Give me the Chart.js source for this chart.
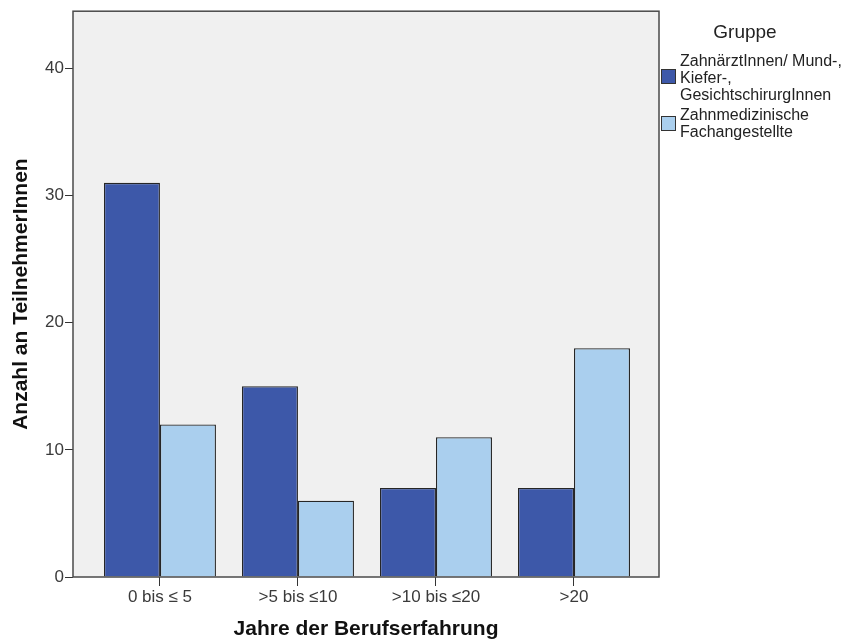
<!DOCTYPE html>
<html>
<head>
<meta charset="utf-8">
<script src="https://cdn.jsdelivr.net/npm/chart.js@4.4.1/dist/chart.umd.min.js"></script>
<style>
  html, body { margin: 0; padding: 0; background: #ffffff; }
  #wrap { width: 853px; height: 642px; }
</style>
</head>
<body>
<div id="wrap"><canvas id="c" width="853" height="642"></canvas></div>
<script>
// ---- data ----
const categories = ["0 bis \u2264 5", ">5 bis \u226410", ">10 bis \u226420", ">20"];
const seriesNames = [["ZahnärztInnen/ Mund-,", "Kiefer-,", "GesichtschirurgInnen"], ["Zahnmedizinische", "Fachangestellte"]];
const zahnaerzte = [31, 15, 7, 7];
const fachangestellte = [12, 6, 11, 18];
const yTicks = [0, 10, 20, 30, 40];
const legendTitle = "Gruppe";
const xTitle = "Jahre der Berufserfahrung";
const yTitle = "Anzahl an TeilnehmerInnen";

const colors = ["#3d58a9", "#aacfee"];
const FONT = "'Liberation Sans', Arial, sans-serif";

const toPoints = arr => arr.map((v, i) => ({ x: i + 1, y: v }));

const framePlugin = {
  id: 'frame',
  beforeDatasetsDraw(chart) {
    const { ctx, chartArea: a } = chart;
    ctx.save();
    ctx.fillStyle = '#f0f0f0';
    ctx.fillRect(a.left, a.top, a.right - a.left, a.bottom - a.top);
    ctx.restore();
  },
  afterDatasetsDraw(chart) {
    const { ctx, chartArea: a } = chart;
    ctx.save();
    ctx.strokeStyle = '#4a4a4a';
    ctx.lineWidth = 1.5;
    ctx.strokeRect(a.left, a.top, a.right - a.left, a.bottom - a.top);
    ctx.restore();
  },
  afterDraw(chart) {
    const { ctx } = chart;
    ctx.save();
    ctx.fillStyle = '#222';
    ctx.textBaseline = 'middle';
    ctx.textAlign = 'center';
    ctx.font = "19px " + FONT;
    ctx.fillText(legendTitle, 745, 33);
    ctx.textAlign = 'left';
    ctx.font = "16px " + FONT;
    const boxes = [{ y: 69, lines: [62, 79, 96] }, { y: 116, lines: [116, 133] }];
    boxes.forEach((b, i) => {
      ctx.fillStyle = colors[i];
      ctx.fillRect(661, b.y, 15, 15);
      ctx.strokeStyle = '#333';
      ctx.lineWidth = 1;
      ctx.strokeRect(661.5, b.y + 0.5, 14, 14);
      ctx.fillStyle = '#222';
      seriesNames[i].forEach((t, j) => ctx.fillText(t, 680, b.lines[j]));
    });
    ctx.restore();
  }
};

new Chart(document.getElementById('c'), {
  type: 'bar',
  data: {
    datasets: [
      { label: seriesNames[0].join(' '), data: toPoints(zahnaerzte), backgroundColor: colors[0], borderColor: '#262626', borderWidth: 1.3 },
      { label: seriesNames[1].join(' '), data: toPoints(fachangestellte), backgroundColor: colors[1], borderColor: '#262626', borderWidth: 1.3 }
    ]
  },
  options: {
    responsive: false,
    devicePixelRatio: 1,
    animation: false,
    categoryPercentage: 0.8116,
    barPercentage: 1,
    layout: { padding: { top: 11, right: 194, bottom: 0, left: 0 } },
    plugins: { legend: { display: false }, tooltip: { enabled: false } },
    scales: {
      x: {
        type: 'linear',
        offset: false,
        min: 0.37,
        max: 4.616,
        afterFit: s => { s.height = 65; },
        afterBuildTicks: s => { s.ticks = categories.map((c, i) => ({ value: i + 1 })); },
        ticks: { callback: v => categories[v - 1], color: '#3a3a3a', font: { family: FONT, size: 17 }, padding: 1, maxRotation: 0, autoSkip: false },
        grid: { offset: false, drawOnChartArea: false, drawTicks: true, tickLength: 9, color: '#333' },
        border: { display: false },
        title: { display: true, text: xTitle, color: '#111', font: { family: FONT, size: 21, weight: 'bold' }, padding: { top: 0, bottom: 0 } }
      },
      y: {
        min: 0,
        max: 44.5,
        afterFit: s => { s.width = 73; },
        afterBuildTicks: s => { s.ticks = yTicks.map(v => ({ value: v })); },
        ticks: { color: '#3a3a3a', font: { family: FONT, size: 17 }, padding: 1 },
        grid: { drawOnChartArea: false, drawTicks: true, tickLength: 8, color: '#333' },
        border: { display: false },
        title: { display: true, text: yTitle, color: '#111', font: { family: FONT, size: 21, weight: 'bold' }, padding: { top: 9, bottom: 0 } }
      }
    }
  },
  plugins: [framePlugin]
});
</script>
</body>
</html>
